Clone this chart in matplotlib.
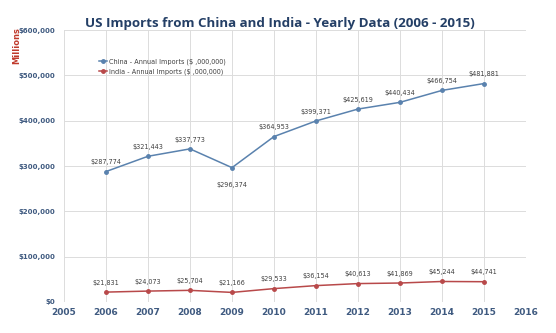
import matplotlib.pyplot as plt
from matplotlib.ticker import FuncFormatter

years = [2006, 2007, 2008, 2009, 2010, 2011, 2012, 2013, 2014, 2015]
china = [287774, 321443, 337773, 296374, 364953, 399371, 425619, 440434, 466754, 481881]
india = [21831, 24073, 25704, 21166, 29533, 36154, 40613, 41869, 45244, 44741]

fig = plt.figure(figsize=(5.56, 3.33), dpi=100)
ax = fig.add_axes([0.1151, 0.0931, 0.8309, 0.8168])

ax.plot(years, china, color='#5A82AE', lw=1.1, marker='o', ms=2.5,
        label='China - Annual Imports ($ ,000,000)')
ax.plot(years, india, color='#B8494A', lw=1.1, marker='o', ms=2.5,
        label='India - Annual Imports ($ ,000,000)')

# value labels, 2009 china goes under the dip
for x, v in zip(years, china):
    dy = -10 if x == 2009 else 4.5
    ax.annotate('${:,}'.format(v), (x, v), xytext=(0, dy), textcoords='offset points',
                ha='center', va='bottom' if dy > 0 else 'top', fontsize=4.7, color='#404040')
for x, v in zip(years, india):
    ax.annotate('${:,}'.format(v), (x, v), xytext=(0, 4.5), textcoords='offset points',
                ha='center', va='bottom', fontsize=4.7, color='#404040')

ax.set_xlim(2005, 2016)
ax.set_ylim(0, 600000)
ax.set_xticks(range(2005, 2017))
ax.set_yticks(range(0, 600001, 100000))
ax.yaxis.set_major_formatter(FuncFormatter(lambda v, p: '${:,.0f}'.format(v)))
ax.grid(True, color='#DCDCDC', lw=0.7)
ax.set_axisbelow(True)
for s in ax.spines.values():
    s.set_visible(False)
ax.tick_params(axis='y', length=0, pad=6, colors='#3F5A80')
ax.tick_params(axis='x', length=0, pad=4, colors='#3F5A80')
for t in ax.get_yticklabels():
    t.set_fontsize(5.0)
    t.set_fontweight('bold')
for t in ax.get_xticklabels():
    t.set_fontsize(6.5)
    t.set_fontweight('bold')

leg = ax.legend(loc='upper left', bbox_to_anchor=(0.065, 0.912), frameon=False,
                fontsize=4.7, handlelength=1.3, handletextpad=0.3, labelspacing=0.5,
                borderpad=0.2)
for t in leg.get_texts():
    t.set_color('#404040')

fig.text(0.504, 0.91, 'US Imports from China and India - Yearly Data (2006 - 2015)',
         ha='center', va='bottom', fontsize=9.6, fontweight='bold',
         family='Open Sans', color='#243F66')
fig.text(0.031, 0.862, 'Millions', rotation=90, ha='center', va='center',
         fontsize=6, fontweight='bold', color='#C0392B')

fig.savefig('out.png', dpi=100)
